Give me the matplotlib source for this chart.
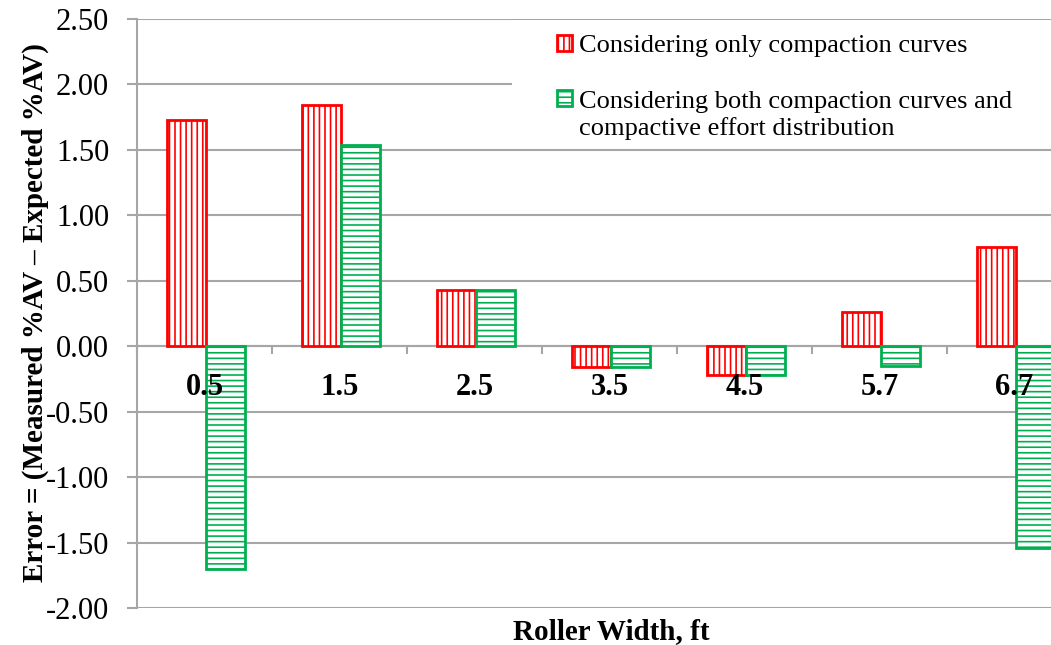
import numpy as np
import matplotlib
matplotlib.use('Agg')
import matplotlib.pyplot as plt
from matplotlib.patches import Rectangle, Patch

# Chart data
widths = ['0.5', '1.5', '2.5', '3.5', '4.5', '5.7', '6.7']
err_curves_only = [1.73, 1.84, 0.43, -0.16, -0.22, 0.26, 0.76]
err_curves_effort = [-1.70, 1.54, 0.43, -0.16, -0.22, -0.15, -1.54]
label_only = 'Considering only compaction curves'
label_both = 'Considering both compaction curves and'
label_both_2 = 'compactive effort distribution'

red = '#FF0000'
green = '#00B050'
grid_gray = '#A6A6A6'

plt.rcParams['font.family'] = ['Liberation Serif', 'DejaVu Serif']
plt.rcParams['hatch.linewidth'] = 1.2

fig = plt.figure(figsize=(10.51, 6.45), dpi=100)
# plot area runs past the right edge of the image, like the original
ax = fig.add_axes([137 / 1051, 37 / 645, 945 / 1051, 589 / 645])

x = np.arange(len(widths))
bw = 0.29
ax.bar(x - bw / 2 + 0.01, err_curves_only, bw, facecolor='white', edgecolor=red,
       hatch='|||', linewidth=2, zorder=3)
ax.bar(x + bw / 2 + 0.01, err_curves_effort, bw, facecolor='white', edgecolor=green,
       hatch='---', linewidth=2, zorder=3)

ax.set_xlim(-0.5, len(widths) - 0.5)
ax.set_ylim(-2.0, 2.5)
yt = np.arange(-2.0, 2.51, 0.5)
ax.set_yticks(yt)
ax.set_yticklabels([f'{v:.2f}' for v in yt], fontsize=22)
ax.yaxis.grid(True, color=grid_gray, linewidth=1.5)
ax.set_axisbelow(True)

ax.spines['bottom'].set_position(('data', 0))
for s in ['top', 'right']:
    ax.spines[s].set_visible(False)
for s in ['left', 'bottom']:
    ax.spines[s].set_color(grid_gray)
    ax.spines[s].set_linewidth(1.5)

# category labels sit just under the zero line, drawn over the bars
ax.set_xticks(np.arange(-0.5, len(widths), 1))
ax.set_xticklabels([])
ax.tick_params(axis='x', length=6, width=1.5, color=grid_gray, direction='out')
ax.tick_params(axis='y', length=7, width=1.5, color=grid_gray, direction='out', pad=13)
for i, w in enumerate(widths):
    ax.annotate(w, xy=(i, 0), xytext=(0, -30), textcoords='offset points',
                ha='center', va='center', fontsize=22, fontweight='bold', zorder=6)

fig.text(35 / 1051, 1 - 313 / 645, 'Error = (Measured %AV \u2013 Expected %AV)',
         rotation=90, ha='center', va='center', fontsize=21, fontweight='bold')
fig.text(611 / 1051, 1 - 632 / 645, 'Roller Width, ft', ha='center', va='center',
         fontsize=21, fontweight='bold')

# white box behind the legend hides the gridlines
fig.patches.append(Rectangle((512 / 1051, 1 - 148 / 645), 539 / 1051, 128 / 645,
                             transform=fig.transFigure, facecolor='white',
                             edgecolor='none', zorder=2))

handles = [Patch(facecolor='white', edgecolor=red, hatch='|||', linewidth=2),
           Patch(facecolor='white', edgecolor=green, hatch='---', linewidth=2)]
fig.legend(handles, [label_only, label_both], loc='upper left',
           bbox_to_anchor=(557 / 1051, 1 - 35 / 645), frameon=False, fontsize=19,
           borderpad=0, borderaxespad=0, handlelength=0.55, handleheight=0.55,
           handletextpad=0.3, labelspacing=1.25)
fig.text(579 / 1051, 1 - 129 / 645, label_both_2, ha='left', va='center', fontsize=19)

fig.savefig('out.png', dpi=100)
